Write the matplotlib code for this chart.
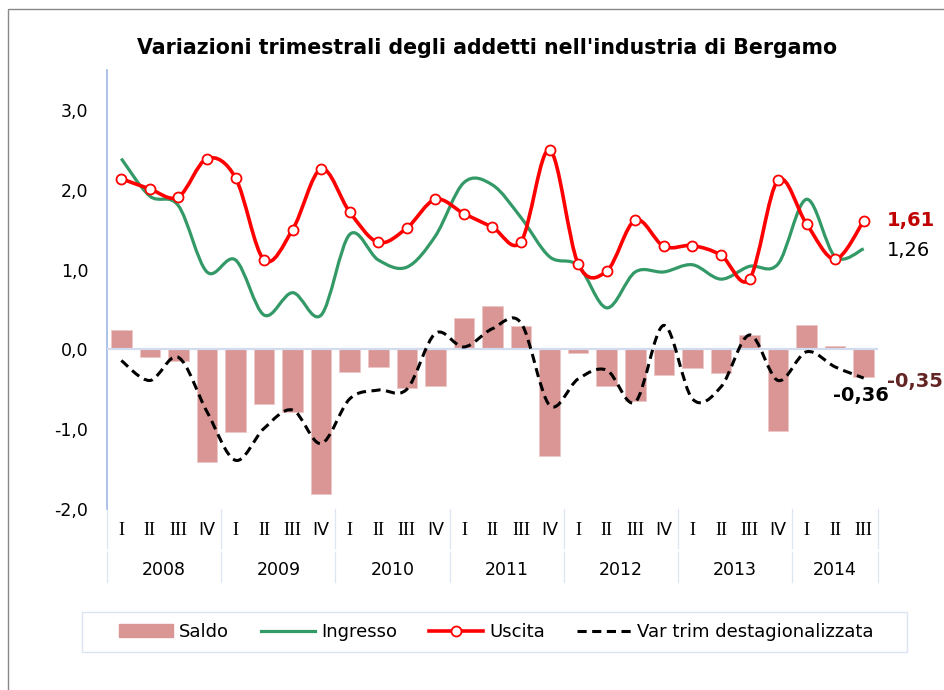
import numpy as np
import matplotlib
matplotlib.use("Agg")
import matplotlib.pyplot as plt
from matplotlib.path import Path
from matplotlib.patches import PathPatch, Patch, Rectangle
from matplotlib.lines import Line2D

# data (2008 I .. 2014 III)
years = ["2008", "2009", "2010", "2011", "2012", "2013", "2014"]
quarters = ["I", "II", "III", "IV"] * 6 + ["I", "II", "III"]

saldo = [0.24, -0.10, -0.14, -1.41, -1.03, -0.69, -0.79, -1.81,
         -0.28, -0.22, -0.49, -0.46, 0.39, 0.54, 0.29, -1.34,
         -0.04, -0.46, -0.65, -0.32, -0.23, -0.30, 0.18, -1.02,
         0.31, 0.04, -0.35]
ingresso = [2.39, 1.92, 1.80, 0.97, 1.12, 0.43, 0.71, 0.43,
            1.44, 1.12, 1.03, 1.42, 2.09, 2.06, 1.65, 1.16,
            1.05, 0.52, 0.97, 0.97, 1.06, 0.88, 1.04, 1.07,
            1.88, 1.16, 1.26]
uscita = [2.14, 2.01, 1.91, 2.39, 2.15, 1.12, 1.50, 2.26,
          1.72, 1.34, 1.52, 1.88, 1.70, 1.53, 1.35, 2.50,
          1.07, 0.98, 1.62, 1.29, 1.30, 1.18, 0.88, 2.12,
          1.57, 1.13, 1.61]
var_trim = [-0.14, -0.39, -0.10, -0.78, -1.39, -0.99, -0.76, -1.18,
            -0.62, -0.51, -0.50, 0.20, 0.03, 0.26, 0.33, -0.70,
            -0.37, -0.26, -0.66, 0.30, -0.62, -0.47, 0.18, -0.39,
            -0.03, -0.22, -0.36]

W, H = 944, 690


def fx(px):
    return px / W


def fy(py):
    return 1 - py / H


def smooth_path(x, y):
    # excel style smoothed line: cubic bezier through every point
    pts = np.column_stack([x, y]).astype(float)
    n = len(pts)
    verts = [pts[0]]
    codes = [Path.MOVETO]
    for i in range(n - 1):
        p0 = pts[i - 1] if i > 0 else pts[i]
        p1 = pts[i]
        p2 = pts[i + 1]
        p3 = pts[i + 2] if i + 2 < n else pts[i + 1]
        verts += [p1 + (p2 - p0) / 6, p2 - (p3 - p1) / 6, p2]
        codes += [Path.CURVE4] * 3
    return Path(verts, codes)


x = np.arange(len(quarters))

fig = plt.figure(figsize=(W / 100, H / 100), dpi=100)
ax = fig.add_axes([fx(107), fy(509), fx(878) - fx(107), fy(70) - fy(509)])

ax.bar(x, saldo, width=0.72, color="#d99694", edgecolor="#ecc8c7", linewidth=0.6, zorder=2)
ax.axhline(0, color="#d3dcee", lw=1.6, zorder=3)

ax.add_patch(PathPatch(smooth_path(x, ingresso), fill=False, edgecolor="#339966", lw=2.3, zorder=4))
ax.add_patch(PathPatch(smooth_path(x, uscita), fill=False, edgecolor="#ff0000", lw=2.6, zorder=5))
ax.plot(x, uscita, "o", ms=7.2, mfc="white", mec="#ff0000", mew=1.3, zorder=6)
ax.add_patch(PathPatch(smooth_path(x, var_trim), fill=False, edgecolor="black", lw=2.2,
                       linestyle=(0, (3, 1.8)), zorder=7))

ax.set_xlim(-0.5, len(x) - 0.5)
ax.set_ylim(-2, 3.5)
ax.set_yticks(range(-2, 4))
ax.set_yticklabels([f"{v:.1f}".replace(".", ",") for v in range(-2, 4)], fontsize=12.5)
ax.tick_params(axis="y", length=0, pad=13.5)
ax.set_xticks([])
for s in ["top", "right", "bottom"]:
    ax.spines[s].set_visible(False)
ax.spines["left"].set_color("#9db9e3")
ax.spines["left"].set_linewidth(1.2)

# category axis: quarters and years
tr = ax.get_xaxis_transform()
for i, q in enumerate(quarters):
    fam = "DejaVu Sans" if q == "IV" else "Liberation Serif"
    ax.text(i, -0.048, q, transform=tr, ha="center", va="center",
            fontsize=13 if fam != "DejaVu Sans" else 12.5, family=fam)
for k, yr in enumerate(years):
    start = k * 4
    end = min(start + 4, len(x))
    ax.text((start + end - 1) / 2, -0.139, yr, transform=tr, ha="center", va="center", fontsize=12.5)
bounds = [b - 0.5 for b in range(0, len(x), 4)] + [len(x) - 0.5]
for b in bounds:
    ax.plot([b, b], [0, -0.089], transform=tr, color="#dce6f2", lw=0.9, clip_on=False)
    ax.plot([b, b], [-0.098, -0.166], transform=tr, color="#dce6f2", lw=0.9, clip_on=False)

# end labels
last = len(x) - 1
ax.annotate("1,61", (last, uscita[-1]), xytext=(16.5, 0), textcoords="offset points",
            ha="left", va="center", fontsize=14, fontweight="bold", color="#c00000")
ax.annotate("1,26", (last, ingresso[-1]), xytext=(16.5, -1), textcoords="offset points",
            ha="left", va="center", fontsize=14, color="black")
ax.annotate("-0,36", (last, var_trim[-1]), xytext=(-2, -12.5), textcoords="offset points",
            ha="center", va="center", fontsize=14, fontweight="bold", color="black")
ax.annotate("-0,35", (last, saldo[-1]), xytext=(17, -3), textcoords="offset points",
            ha="left", va="center", fontsize=14, fontweight="bold", color="#632523",
            annotation_clip=False)

fig.text(fx(487), fy(48), "Variazioni trimestrali degli addetti nell'industria di Bergamo",
         ha="center", va="center", fontsize=14.8, fontweight="bold")

# chart border and legend box
fig.add_artist(Rectangle((fx(8), -0.05), 1.2, fy(9) + 0.05, transform=fig.transFigure,
                         fill=False, edgecolor="#888888", lw=1.0))
fig.add_artist(Rectangle((fx(82), fy(652)), fx(907) - fx(82), fy(612) - fy(652),
                         transform=fig.transFigure, fill=False, edgecolor="#dbe5f1", lw=1.0))

handles = [
    Patch(facecolor="#d99694", edgecolor="#d99694"),
    Line2D([], [], color="#339966", lw=2.3),
    Line2D([], [], color="#ff0000", lw=2.6, marker="o", ms=7.2, mfc="white", mec="#ff0000", mew=1.3),
    Line2D([], [], color="black", lw=2.2, linestyle=(0, (3, 1.8))),
]
labels = ["Saldo", "Ingresso", "Uscita", "Var trim destagionalizzata"]
fig.legend(handles, labels, loc="center", bbox_to_anchor=(fx(496), fy(632)), ncol=4,
           frameon=False, fontsize=13, handlelength=3.0, handletextpad=0.35,
           columnspacing=1.75, handleheight=0.7)

fig.savefig("out.png", dpi=100)
